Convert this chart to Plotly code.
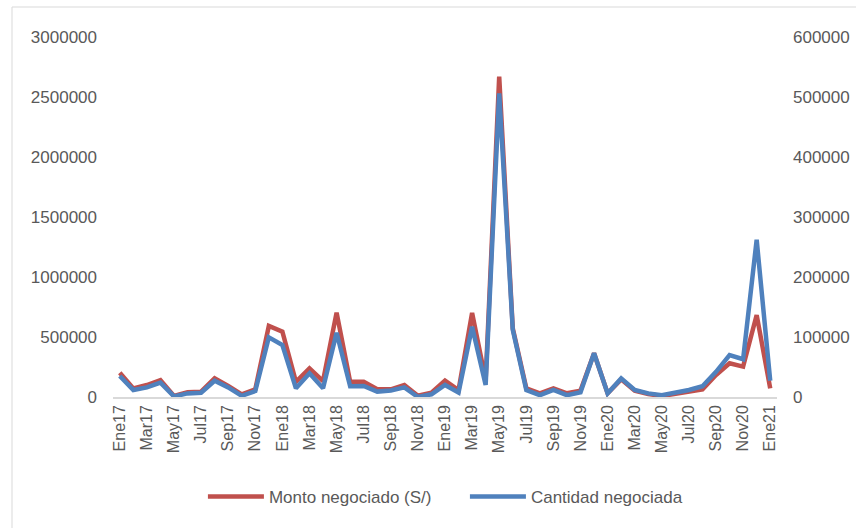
import plotly.graph_objects as go

meses = ["Ene17","Feb17","Mar17","Abr17","May17","Jun17","Jul17","Ago17","Sep17","Oct17","Nov17","Dic17",
         "Ene18","Feb18","Mar18","Abr18","May18","Jun18","Jul18","Ago18","Sep18","Oct18","Nov18","Dic18",
         "Ene19","Feb19","Mar19","Abr19","May19","Jun19","Jul19","Ago19","Sep19","Oct19","Nov19","Dic19",
         "Ene20","Feb20","Mar20","Abr20","May20","Jun20","Jul20","Ago20","Sep20","Oct20","Nov20","Dic20",
         "Ene21"]

monto = [202000, 72000, 100000, 141000, 8000, 39000, 44000, 156000, 92000, 22000, 64000, 592000,
         544000, 127000, 239000, 133000, 703000, 127000, 127000, 64000, 64000, 100000, 11000, 36000,
         136000, 58000, 700000, 141000, 2669000, 572000, 72000, 31000, 72000, 31000, 53000, 364000,
         31000, 147000, 53000, 25000, 8000, 25000, 44000, 64000, 183000, 281000, 253000, 683000,
         72000]

cantidad = [35000, 11700, 16000, 24000, 1000, 6000, 7000, 27000, 16000, 2000, 10000, 99500,
            86700, 14500, 39500, 14500, 107000, 18000, 18500, 9000, 11000, 16000, 0, 4500,
            20000, 7500, 117000, 20000, 506000, 112000, 11700, 3000, 11700, 3000, 8000, 72800,
            6000, 31000, 11700, 6000, 3000, 7000, 11700, 18000, 42000, 70000, 63000, 262000,
            27000]

tick_labels = meses[::2]
tick_idx = list(range(0, len(meses), 2))

red = "#C0504D"
blue = "#4F81BD"
font_family = "Liberation Sans, Arial, sans-serif"
txt = "#595959"

x_idx = list(range(len(meses)))

fig = go.Figure()
fig.add_trace(go.Scatter(x=x_idx, y=monto, mode="lines", name="Monto negociado (S/)",
                         line=dict(color=red, width=4.5), yaxis="y"))
fig.add_trace(go.Scatter(x=x_idx, y=cantidad, mode="lines", name="Cantidad negociada",
                         line=dict(color=blue, width=4.5), yaxis="y2"))

L, R, T, B = 113, 79, 37, 131
pw = 856 - L - R
ph = 528 - T - B

fig.update_layout(
    width=856, height=528,
    margin=dict(l=L, r=R, t=T, b=B, autoexpand=False),
    paper_bgcolor="white", plot_bgcolor="white",
    font=dict(family=font_family, size=17, color=txt),
    showlegend=True,
    legend=dict(orientation="h", x=0.530, xanchor="center", y=(397 - 497) / ph, yanchor="middle",
                font=dict(size=17, color=txt), itemwidth=56, traceorder="normal",
                entrywidth=191, entrywidthmode="pixels"),
    xaxis=dict(range=[-0.5, len(meses) - 0.5], tickmode="array", tickvals=tick_idx,
               ticktext=tick_labels, tickangle=-90, showgrid=False, zeroline=False,
               showline=True, linecolor="#D9D9D9", linewidth=1.5, ticks="", automargin=False,
               tickfont=dict(size=16, color=txt)),
    yaxis=dict(range=[0, 3000000], dtick=500000, showgrid=False, zeroline=False,
               showline=False, ticks="", tickformat="d", ticklabelstandoff=15, automargin=False,
               tickfont=dict(size=17, color=txt)),
    yaxis2=dict(range=[0, 600000], dtick=100000, overlaying="y", side="right",
                showgrid=False, zeroline=False, showline=False, ticks="", tickformat="d",
                ticklabelstandoff=15, automargin=False, tickfont=dict(size=17, color=txt)),
    shapes=[dict(type="rect", xref="paper", yref="paper",
                 x0=(12 - L) / pw, x1=1.3, y0=-0.6, y1=(397 - 7) / ph,
                 line=dict(color="#D9D9D9", width=1), fillcolor="rgba(0,0,0,0)", layer="below")],
)

fig.write_html("out.html", config={"displayModeBar": False},
               post_script="document.body.style.margin='0';document.body.style.overflow='hidden';")
